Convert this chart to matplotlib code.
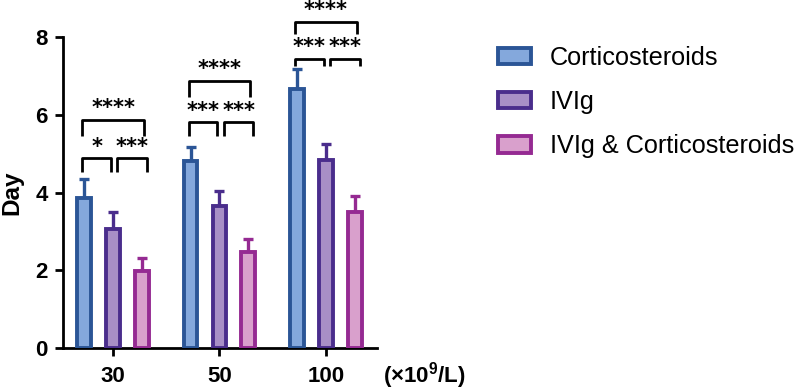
import matplotlib
matplotlib.use("Agg")
import matplotlib.pyplot as plt
from matplotlib.patches import Patch
import numpy as np

plt.rcParams['font.family'] = ['Liberation Sans', 'DejaVu Sans']
plt.rcParams['mathtext.fontset'] = 'custom'
plt.rcParams['mathtext.rm'] = 'Liberation Sans:bold'
plt.rcParams['mathtext.bf'] = 'Liberation Sans:bold'

categories = ['30', '50', '100']
series_names = ['Corticosteroids', 'IVIg', 'IVIg & Corticosteroids']
means = {
    'Corticosteroids': [3.85, 4.80, 6.67],
    'IVIg': [3.07, 3.65, 4.83],
    'IVIg & Corticosteroids': [1.99, 2.48, 3.51],
}
errors = {
    'Corticosteroids': [0.50, 0.38, 0.50],
    'IVIg': [0.43, 0.39, 0.41],
    'IVIg & Corticosteroids': [0.32, 0.32, 0.39],
}
sig_small_left = ['*', '***', '***']
sig_small_right = ['***', '***', '***']
sig_big = ['****', '****', '****']
small_y = [4.88, 5.81, 7.45]
big_y = [5.88, 6.87, 8.39]

edge_colors = ['#2b5596', '#4a2d8c', '#952a92']
fill_colors = ['#84a8dc', '#a88fc6', '#d9a0cc']

fig = plt.figure(figsize=(8, 3.9), dpi=100)
ax = fig.add_axes([0.079, 0.1077, 0.392, 0.797])

x = np.arange(len(categories))
offsets = [-0.272, 0.0, 0.272]
bw = 0.13
lw = 2.8
for i, name in enumerate(series_names):
    xs = x + offsets[i]
    ax.bar(xs, means[name], width=bw, color=fill_colors[i], edgecolor=edge_colors[i],
           linewidth=lw, zorder=3)
    ax.errorbar(xs, means[name], yerr=[np.zeros(3), errors[name]], fmt='none',
                ecolor=edge_colors[i], elinewidth=2.4, capsize=3.6, capthick=2.4, zorder=2)

ast_font = dict(family='DejaVu Sans', fontweight='bold', fontsize=15, color='black',
                ha='center', va='center')
blw = 2.0
txt_off = [0.30, 0.30, 0.30]
for g in range(3):
    cx = x[g]
    sy = small_y[g]
    leg = 0.36 if g < 2 else 0.2
    for (a, b), lab in [((-0.29, -0.02), sig_small_left[g]), ((0.04, 0.32), sig_small_right[g])]:
        ax.plot([cx + a, cx + a, cx + b, cx + b], [sy - leg, sy, sy, sy - leg],
                color='black', lw=blw, clip_on=False, solid_capstyle='butt', zorder=4)
        ax.text(cx + (a + b) / 2, sy + txt_off[g], lab, clip_on=False, **ast_font)
    by = big_y[g]
    bleg = 0.42 if g < 2 else 0.3
    a, b = -0.29, 0.29
    ax.plot([cx + a, cx + a, cx + b, cx + b], [by - bleg, by, by, by - bleg],
            color='black', lw=blw, clip_on=False, solid_capstyle='butt', zorder=4)
    ax.text(cx + (a + b) / 2, by + txt_off[g], sig_big[g], clip_on=False, **ast_font)

ax.set_xlim(-0.47, 2.48)
ax.set_ylim(0, 8)
ax.set_yticks([0, 2, 4, 6, 8])
ax.set_xticks(x)
ax.set_xticklabels(categories)
for s in ['top', 'right']:
    ax.spines[s].set_visible(False)
for s in ['left', 'bottom']:
    ax.spines[s].set_linewidth(2.0)
ax.tick_params(axis='both', width=2.0, length=6, labelsize=16)
ax.tick_params(axis='x', pad=7)
ax.tick_params(axis='y', pad=5)
for lab in ax.get_xticklabels() + ax.get_yticklabels():
    lab.set_fontweight('bold')
ax.set_ylabel('Day', fontsize=17.5, fontweight='bold')
ax.yaxis.set_label_coords(-0.128, 0.5)

fig.text(383 / 800, (390 - 376) / 390, r'(×10$^{9}$/L)', fontsize=16, fontweight='bold',
         ha='left', va='center')

handles = [Patch(facecolor=fill_colors[i], edgecolor=edge_colors[i], linewidth=lw)
           for i in range(3)]
fig.legend(handles, series_names, loc='center left', bbox_to_anchor=(498 / 800, (390 - 102) / 390),
           frameon=False, fontsize=18.2, handlelength=1.3, handleheight=0.62,
           handletextpad=0.75, labelspacing=0.8, borderpad=0, borderaxespad=0)

fig.savefig('out.png', dpi=100)
